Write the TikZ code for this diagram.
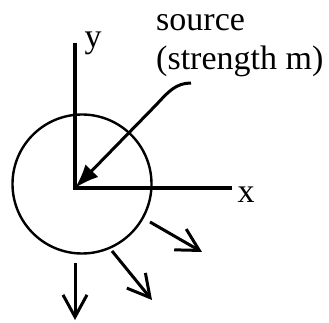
\documentclass[tikz,border=0pt]{standalone}
\usepackage{fontspec}
\setmainfont{Liberation Serif}
\usetikzlibrary{arrows.meta}
\begin{document}
\begin{tikzpicture}[x=1pt,y=-1pt,
        axis/.style={line width=3.4pt},
        flow/.style={line width=3pt,-{Straight Barb[length=22pt,width=24pt,line width=3pt]}},
        lbl/.style={font=\fontsize{34}{39}\selectfont,inner sep=0pt}]
    \useasboundingbox (0,0) rectangle (329,323);
        % origin and axis ends
        \coordinate (o) at (75,188);
        \coordinate (xend) at (232,188);
        \coordinate (yend) at (75,43);
        % axis labels
        \node[lbl,anchor=base] (xlbl) at (246,203) {x};
        \node[lbl,anchor=base] (ylbl) at (93,48) {y};
        % source label
        \node[lbl,anchor=north west,align=left] (srclbl) at (156,14) {source\\(strength m)};
        % Draw the circle
        \node[draw,circle,line width=2.4pt,minimum size=139pt] (ring) at (82,184) {};
        % Draw the axes
        \draw[axis] (yend) -- (o) -- (xend);
        % arrow to the source
        \coordinate (tail) at (191,83);
        \coordinate (bend) at (157,104);
        \draw[line width=3pt,-{Latex[length=24pt,width=18pt]}] (tail) .. controls (176,83) and (168,92) .. (bend) -- (o);
        % outflow arrows
        \coordinate (f1s) at (150,222);
        \coordinate (f1e) at (202,252);
        \coordinate (f2s) at (112,251);
        \coordinate (f2e) at (152,300);
        \coordinate (f3s) at (75,263);
        \coordinate (f3e) at (75,320);
        \draw[flow] (f1s) -- (f1e);
        \draw[flow] (f2s) -- (f2e);
        \draw[flow] (f3s) -- (f3e);
    \end{tikzpicture}
\end{document}
